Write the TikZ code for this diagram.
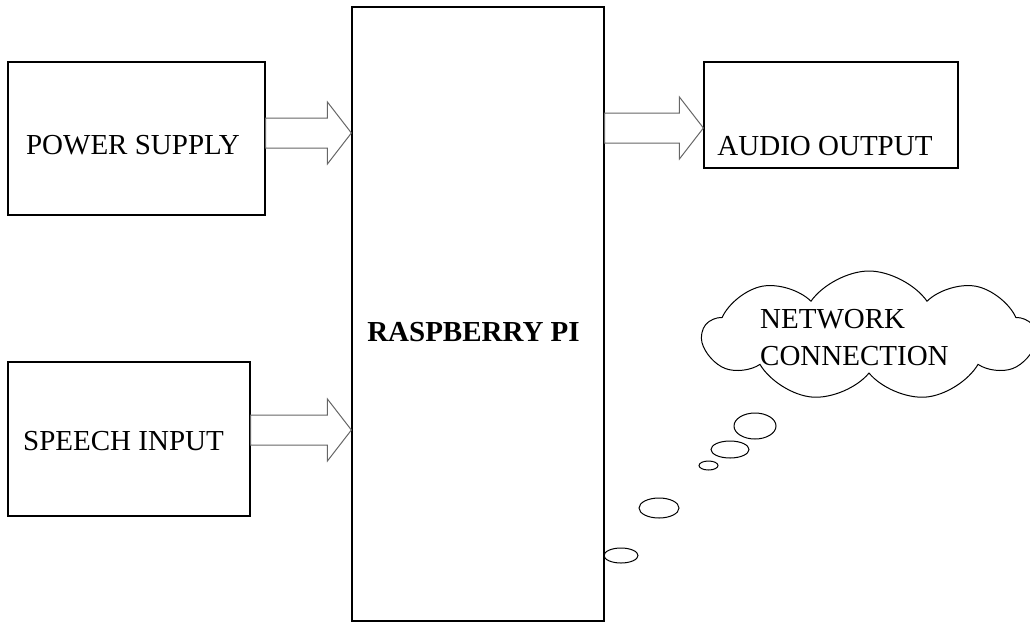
\documentclass[tikz,border=0pt]{standalone}
\usepackage{fontspec}
\setmainfont{Liberation Serif}
\usetikzlibrary{calc,shapes.symbols,shapes.geometric}

\tikzset{
  block/.style={draw, line width=1.2pt, rectangle, inner sep=0pt},
  boxtext/.style={font=\fontsize{29}{37}\selectfont, inner sep=0pt},
  fat arrow/.style={draw=black!60, line width=1pt, line join=miter},
  bubble/.style={draw, ellipse, line width=1pt, inner sep=0pt},
}
\newcommand{\fatarrow}[2]{%
  \draw[fat arrow] ($(#1)+(0,-15)$) -- ($(#2)+(-24,-15)$) -- ($(#2)+(-24,-31)$) -- (#2)
    -- ($(#2)+(-24,31)$) -- ($(#2)+(-24,15)$) -- ($(#1)+(0,15)$) -- cycle;}

\begin{document}
\begin{tikzpicture}[x=1pt,y=-1pt]
    \useasboundingbox (0,0) rectangle (1030,622);

    % blocks
    \node[block, minimum width=257pt, minimum height=153pt] (ps) at (136.5,138.5) {};
    \node[block, minimum width=242pt, minimum height=154pt] (speech) at (129,439) {};
    \node[block, minimum width=252pt, minimum height=614pt] (rpi) at (478,314) {};
    \node[block, minimum width=254pt, minimum height=106pt] (audio) at (831,115) {};

    \node[boxtext] (pslabel) at (133,145.5) {POWER SUPPLY};
    \node[boxtext] (speechlabel) at (123.5,441) {SPEECH INPUT};
    \node[boxtext, font=\fontsize{29}{37}\selectfont\bfseries] (rpilabel) at (473.5,332.5) {RASPBERRY PI};
    \node[boxtext] (audiolabel) at (825,146) {AUDIO OUTPUT};

    % hollow arrows
    \coordinate (a1s) at (ps.east |- 0,133);
    \coordinate (a1e) at (rpi.west |- 0,133);
    \coordinate (a2s) at (rpi.east |- 0,128);
    \coordinate (a2e) at (audio.west |- 0,128);
    \coordinate (a3s) at (speech.east |- 0,430);
    \coordinate (a3e) at (rpi.west |- 0,430);
    \fatarrow{a1s}{a1e}
    \fatarrow{a2s}{a2e}
    \fatarrow{a3s}{a3e}

    % network cloud
    \node[cloud, draw, line width=1pt, cloud puffs=9, cloud puff arc=110, aspect=2.6,
          minimum width=332pt, minimum height=130pt] (net) at (869,336) {};
    \node[boxtext, align=left, anchor=west] (netlabel) at (760,337.5) {NETWORK\\CONNECTION};

    % thought bubbles
    \node[bubble, minimum width=42pt, minimum height=26pt] (b1) at (755,426) {};
    \node[bubble, minimum width=38pt, minimum height=17pt] (b2) at (730,449.5) {};
    \node[bubble, minimum width=19pt, minimum height=9pt] (b3) at (708.5,465.5) {};
    \node[bubble, minimum width=40pt, minimum height=20pt] (b4) at (659,508) {};
    \node[bubble, minimum width=34pt, minimum height=15pt] (b5) at (621,555.5) {};
\end{tikzpicture}
\end{document}
